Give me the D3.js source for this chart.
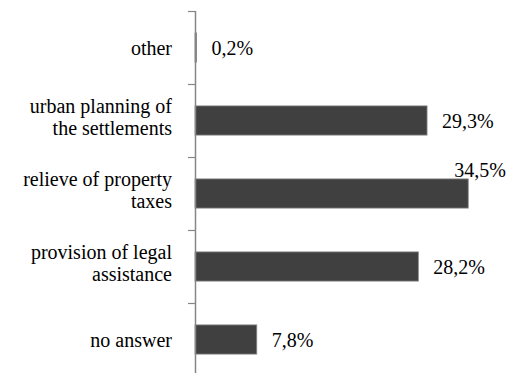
<!DOCTYPE html>
<html><head><meta charset="utf-8"><script src="https://cdn.jsdelivr.net/npm/d3@7"></script></head>
<body style="margin:0;background:#fff">
<svg id="s" width="517" height="373"></svg>
<script>
// Survey answers, top to bottom
const categories = [
  ["other"],
  ["urban planning of", "the settlements"],
  ["relieve of property", "taxes"],
  ["provision of legal", "assistance"],
  ["no answer"]
];
const values = [0.2, 29.3, 34.5, 28.2, 7.8];
const valueLabels = ["0,2%", "29,3%", "34,5%", "28,2%", "7,8%"];

const W = 517, H = 373;
const axisX = 195;
const svg = d3.select("#s");

const keys = categories.map(c => c.join(" "));
const y = d3.scaleBand()
  .domain(keys)
  .range([11, 376])
  .paddingInner(0.6)
  .paddingOuter(0.3);

const x = d3.scaleLinear().domain([0, 40]).range([axisX, axisX + 316.8]);

const step = y.step();
const bandTop = i => 11 + i * step;
const center = k => y(k) + y.bandwidth() / 2;

function label(str, lx, ly, anchor) {
  svg.append("text")
    .attr("x", lx).attr("y", ly)
    .attr("font-size", 20)
    .attr("text-anchor", anchor)
    .style("font-family", "'Liberation Serif', 'Times New Roman', Tinos, serif", "important")
    .text(str);
}

// bars
svg.append("g").selectAll("rect")
  .data(values)
  .join("rect")
  .attr("x", x(0))
  .attr("y", (d, i) => y(keys[i]))
  .attr("width", d => x(d) - x(0))
  .attr("height", y.bandwidth())
  .attr("fill", "#404040")
  .attr("stroke", "#8a8a8a")
  .attr("stroke-width", 0.8);

// vertical axis with ticks between categories
svg.append("line")
  .attr("x1", axisX + 0.5).attr("x2", axisX + 0.5)
  .attr("y1", 11).attr("y2", H)
  .attr("stroke", "#868686").attr("stroke-width", 1.5);
svg.append("g").selectAll("line")
  .data(d3.range(keys.length + 1))
  .join("line")
  .attr("x1", axisX - 7).attr("x2", axisX)
  .attr("y1", d => Math.round(bandTop(d)) + 0.5)
  .attr("y2", d => Math.round(bandTop(d)) + 0.5)
  .attr("stroke", "#868686").attr("stroke-width", 1.2);

// category labels, right-aligned against the axis
categories.forEach((lines, i) => {
  const c = center(keys[i]);
  if (lines.length === 1) {
    label(lines[0], 172, c + 7, "end");
  } else {
    label(lines[0], 172, c - 7.5, "end");
    label(lines[1], 172, c + 14.5, "end");
  }
});

// value labels next to each bar; moved above the bar when it would run off the edge
values.forEach((v, i) => {
  const c = center(keys[i]);
  const estWidth = valueLabels[i].length * 10;
  let lx = x(v) + 15, ly = c + 7.5;
  if (lx + estWidth > W - 8) { lx = x(v) - 14; ly = c - 16.5; }
  label(valueLabels[i], lx, ly, "start");
});
</script>
</body></html>
